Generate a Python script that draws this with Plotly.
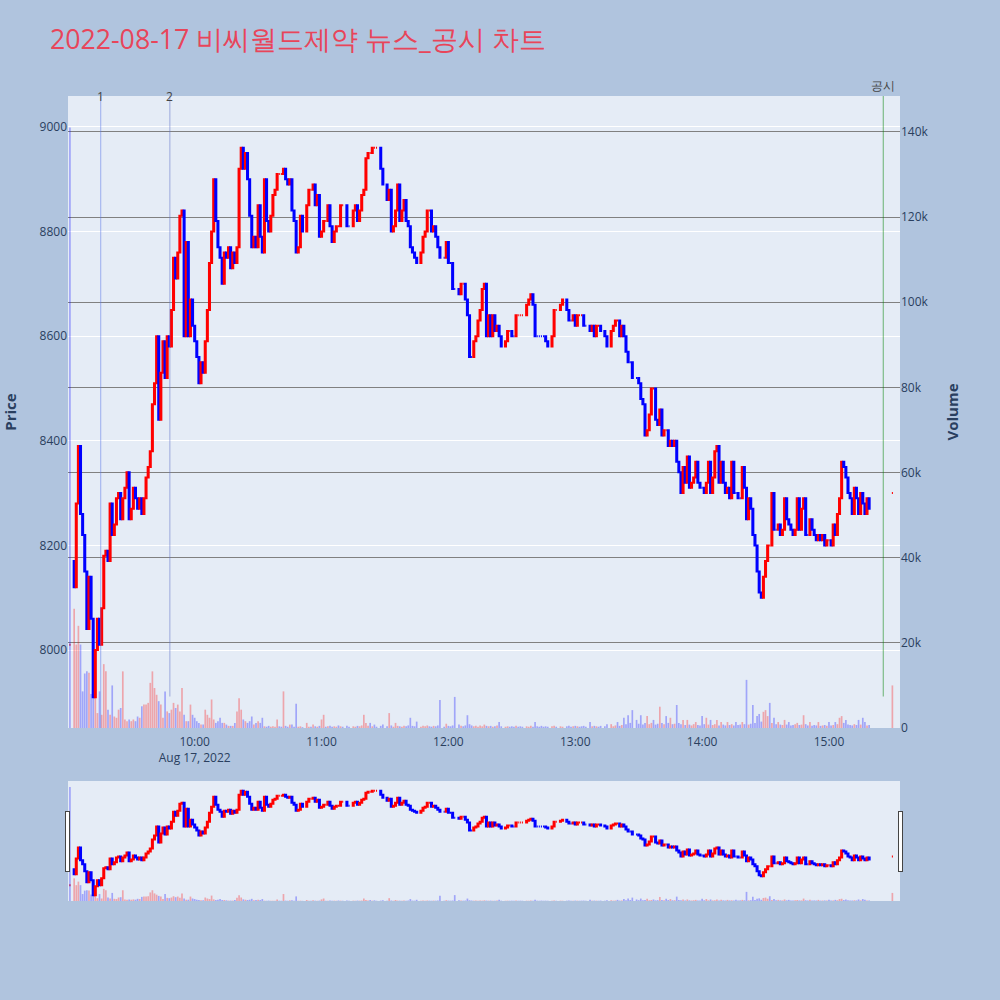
import numpy as np
import pandas as pd
import plotly.graph_objects as go

trade_date = "2022-08-17"
title_text = "2022-08-17 비씨월드제약 뉴스_공시 차트"

# opening single-price print
open_auction_time = "09:01"
open_auction_price = 8010
open_auction_volume = 141000

# continuous session, one close per minute from 09:03 (None = no trade)
session_start = "09:03"
first_open = 8170
closes = [
    8120, 8280, 8390, 8260, 8220, 8150, 8040,
    8140, 8060, 7910, 8000, 8060, 8010, 8080, 8180, 8190, 8170,
    8280, 8220, 8240, 8290, 8300, 8250, 8290, 8310, 8340, 8250,
    8270, 8310, 8290, 8270, 8290, 8260, 8290, 8330, 8350, 8380,
    8470, 8510, 8600, 8440, 8530, 8590, 8520, 8600, 8580, 8650,
    8750, 8710, 8760, 8830, 8840, 8600, 8780, 8600, 8670, 8620,
    8590, 8560, 8510, 8550, 8530, 8590, 8650, 8740, 8800, 8900,
    8820, 8770, 8750, 8700, 8760, 8750, 8770, 8730, 8760, 8740,
    8770, 8920, 8960, 8920, 8950, 8900, 8830, 8770, 8790, 8770,
    8850, 8790, 8760, 8900, 8820, 8800, 8830, 8870, 8880, 8910,
    8910, 8910, 8920, 8900, 8890, 8900, 8840, 8820, 8760, 8770,
    8830, 8800, None, 8850, 8880, 8880, 8890, 8850, 8870, 8790,
    8800, 8820, 8820, 8850, 8810, 8780, 8800, 8810, 8810, 8850,
    8850, None, 8810, 8810, None, 8840, 8850, 8820, 8840, 8870,
    8880, 8940, 8950, 8950, 8960, 8960, 8960, None, 8920, 8890,
    None, 8860, 8880, 8800, 8810, 8840, 8890, 8820, 8840, 8860,
    8820, 8810, 8770, 8760, 8750, 8740, None, 8760, 8790, 8800,
    8840, 8840, 8800, 8810, 8790, 8770, 8750, None, 8750, 8780,
    8740, 8740, 8690, 8690, None, 8680, 8700, 8700, 8670, 8640,
    8560, 8560, 8590, 8600, 8630, 8650, 8690, 8700, 8600, 8640,
    8600, 8640, 8610, 8620, 8600, 8580, None, 8590, 8610, 8610,
    8600, 8600, 8640, 8640, 8640, 8640, None, 8660, 8670, 8680,
    8660, 8600, 8600, 8600, 8600, 8600, 8590, 8580, None, 8600,
    8650, 8650, None, 8660, 8670, None, 8650, 8630, 8630, 8640,
    8620, 8640, 8640, 8640, 8620, 8620, None, 8610, 8620, 8600,
    8620, 8620, 8610, None, 8600, 8580, None, 8610, 8620, 8630,
    8630, 8600, 8620, 8600, 8570, 8550, 8550, 8520, None, 8520,
    8510, 8480, 8470, 8410, 8420, 8450, 8500, 8500, 8440, 8430,
    8460, 8410, 8420, 8420, 8390, 8400, 8390, 8400, 8360, 8340,
    8300, 8350, 8320, 8370, 8310, 8320, 8330, 8360, 8320, 8310,
    8310, 8300, 8320, 8360, 8300, 8330, 8380, 8390, 8320, 8360,
    8320, 8300, 8310, 8290, 8360, 8300, 8300, 8290, 8290, 8350,
    8310, 8250, 8290, 8270, 8220, 8200, 8150, 8110, 8100, 8140,
    8170, 8200, 8200, 8300, 8230, 8230, 8240, 8220, 8230, 8290,
    8250, 8240, 8230, 8220, 8230, 8290, 8230, 8270, 8290, 8220,
    8220, 8250, 8230, 8220, 8210, 8220, 8210, 8220, 8200, 8210,
    8210, 8200, 8240, 8220, 8260, 8290, 8360, 8350, 8330, 8300,
    8290, 8260, 8310, 8290, 8260, 8300, 8280, 8260, 8290, 8270,
]
volumes = [
    28000, 19600, 24000, 19600, 8600, 12800, 13300,
    13000, 8000, 7500, 13000, 3500, 8600, 3100, 15000, 13300, 4300,
    3100, 10000, 2700, 2400, 4300, 4700, 13300, 2000, 1600, 2000,
    1600, 2000, 1600, 2700, 2400, 5100, 5500, 5500, 5900, 10600,
    13300, 9400, 7800, 6300, 5500, 2400, 8600, 3900, 3500, 4300,
    5900, 4700, 5500, 3900, 9400, 3100, 1600, 1600, 5500, 3100,
    2400, 1600, 1200, 800, 800, 4300, 3100, 2400, 6700, 2000,
    1200, 1600, 2400, 1200, 1200, 800, 500, 500, 500, 1200,
    3900, 7000, 4300, 2000, 1600, 1200, 1600, 2700, 800, 1200,
    1600, 1200, 2400, 400, 300, 500, 300, 400, 300, 2000,
    400, 300, 8600, 500, 300, 800, 800, 300, 5700, 300,
    400, 200, None, 1200, 300, 300, 800, 400, 300, 500,
    2000, 3100, 300, 400, 500, 300, 400, 300, 600, 400,
    300, None, 500, 300, None, 400, 300, 500, 400, 600,
    3100, 1200, 500, 1200, 400, 800, 300, None, 500, 800,
    None, 400, 3500, 600, 300, 1200, 500, 400, 300, 500,
    400, 600, 2400, 500, 400, 1500, None, 300, 500, 400,
    600, 400, 300, 500, 400, 600, 6600, None, 300, 1000,
    500, 400, 600, 7300, None, 800, 500, 400, 600, 3000,
    900, 600, 400, 500, 300, 600, 400, 800, 500, 400,
    500, 300, 400, 600, 1400, 400, None, 300, 400, 300,
    400, 300, 500, 300, 400, 300, None, 400, 300, 500,
    300, 1400, 400, 300, 500, 300, 400, 300, None, 400,
    500, 300, None, 400, 300, None, 400, 500, 300, 400,
    500, 400, 300, 400, 500, 300, None, 1400, 400, 500,
    400, 300, 500, None, 400, 900, None, 900, 400, 600,
    1400, 500, 700, 2400, 900, 3000, 1200, 4200, None, 1900,
    1000, 3000, 800, 1200, 2800, 900, 1200, 1900, 800, 1000,
    5000, 1200, 900, 2800, 1200, 2400, 900, 1000, 5400, 1200,
    900, 1900, 700, 1900, 800, 600, 900, 1400, 700, 600,
    2800, 900, 2400, 800, 1900, 700, 900, 1900, 600, 1400,
    800, 600, 1400, 700, 900, 600, 1400, 700, 800, 1400,
    900, 11300, 800, 1000, 5400, 1200, 2800, 3300, 1500, 3800,
    4200, 2800, 5900, 1200, 2400, 900, 1400, 800, 700, 1900,
    800, 1400, 600, 700, 900, 1200, 700, 800, 3000, 900,
    600, 1400, 500, 700, 600, 1400, 500, 600, 700, 500,
    1400, 600, 700, 1400, 900, 2400, 2800, 1200, 1900, 800,
    700, 600, 900, 700, 1900, 800, 2400, 1400, 600, 700,
]

# closing single-price print
close_auction_time = "15:30"
close_auction_price = 8300
close_auction_volume = 10000

# news / disclosure markers
event_labels = ["1", "2", "공시"]
event_times = ["09:15:32", "09:48:15", "15:25:42"]

x_window = ["09:00:05", "15:33:36"]
price_window = [7851, 9059]

# ---------------- build OHLC ----------------
def ts(t):
    return pd.Timestamp(f"{trade_date} {t}")

session_times = list(pd.date_range(ts(session_start), periods=len(closes), freq="min"))
times = [ts(open_auction_time)] + session_times + [ts(close_auction_time)]

o, c, v = [], [], []
o.append(open_auction_price); c.append(open_auction_price)
v.append(open_auction_volume)
prev = first_open
for cl, vol in zip(closes, volumes):
    if cl is None:
        o.append(None); c.append(None); v.append(None)
        continue
    o.append(prev); c.append(cl); v.append(vol)
    prev = cl
o.append(close_auction_price); c.append(close_auction_price)
v.append(close_auction_volume)
h = [None if a is None else max(a, b) for a, b in zip(o, c)]
l = [None if a is None else min(a, b) for a, b in zip(o, c)]

vol_colors = []
last_close = None
for cl in c:
    if cl is None:
        vol_colors.append("rgba(0,0,255,0.3)")
        continue
    up = last_close is not None and cl > last_close
    vol_colors.append("rgba(255,0,0,0.3)" if up else "rgba(0,0,255,0.3)")
    last_close = cl

fig = go.Figure()
fig.add_trace(go.Candlestick(
    x=times, open=o, high=h, low=l, close=c, name="Price",
    increasing=dict(line=dict(color="#FF0000", width=2), fillcolor="#FF0000"),
    decreasing=dict(line=dict(color="#0000FF", width=2), fillcolor="#0000FF"),
    showlegend=False, yaxis="y",
))
fig.add_trace(go.Bar(
    x=times, y=v, marker=dict(color=vol_colors, line=dict(width=0)),
    name="Volume", showlegend=False, yaxis="y2",
))

line_styles = [
    dict(color="rgba(90,120,230,0.45)", width=1.2, y0=0.0),
    dict(color="rgba(90,110,200,0.45)", width=1.2, y0=0.05),
    dict(color="rgba(0,128,0,0.45)", width=1.2, y0=0.05),
]
for lab, t, st in zip(event_labels, event_times, line_styles):
    xt = ts(t)
    fig.add_shape(type="line", xref="x", yref="paper", x0=xt, x1=xt,
                  y0=st["y0"], y1=1, line=dict(color=st["color"], width=st["width"]))
    fig.add_annotation(x=xt, xref="x", yref="paper", y=1,
                       yanchor="bottom" if lab == "공시" else "middle",
                       text=lab, showarrow=False,
                       font=dict(size=12, color="#444"))

fig.update_layout(
    width=1000, height=1000,
    paper_bgcolor="#B0C4DE",
    plot_bgcolor="#E5ECF6",
    margin=dict(l=68, r=100, t=96, b=99),
    title=dict(text=title_text, x=0.05, xanchor="left", y=0.96, yanchor="middle",
               font=dict(size=26.7, color="#E8455A")),
    showlegend=False,
    bargap=0.2,
    xaxis=dict(
        type="date",
        range=[ts(x_window[0]), ts(x_window[1])],
        showgrid=False,
        ticklabelstandoff=5,
        rangeslider=dict(visible=True, thickness=0.149, bgcolor="#E5ECF6",
                         borderwidth=0),
    ),
    yaxis=dict(title=dict(text="Price", font=dict(size=15, weight="bold"), standoff=22),
               automargin=False,
               range=price_window, gridcolor="white", zeroline=False),
    yaxis2=dict(title=dict(text="Volume", font=dict(size=15, weight="bold"), standoff=19),
                automargin=False,
                overlaying="y", side="right", showgrid=True,
                gridcolor="gray", gridwidth=1, zeroline=False,
                rangemode="tozero"),
)

fig.write_html("out.html", post_script="document.body.style.margin='0';",
               config={"displayModeBar": False})
